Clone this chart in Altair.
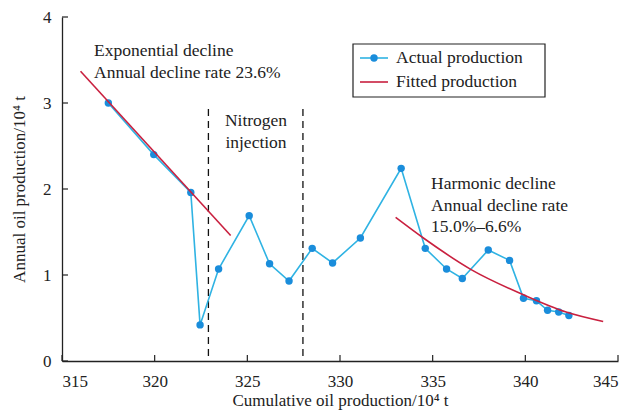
import altair as alt
import pandas as pd

# Actual production (cumulative 10^4 t, annual 10^4 t)
actual_x = [317.5, 319.95, 321.95, 322.45, 323.45, 325.1, 326.2, 327.25, 328.5, 329.6, 331.1,
            333.3, 334.6, 335.75, 336.6, 338.0, 339.15, 339.9, 340.6, 341.2, 341.8, 342.35]
actual_y = [3.0, 2.40, 1.96, 0.42, 1.07, 1.69, 1.13, 0.93, 1.31, 1.14, 1.43,
            2.24, 1.31, 1.07, 0.96, 1.29, 1.17, 0.73, 0.70, 0.59, 0.57, 0.53]

# Fitted exponential decline segment
fit1_x = [316.0, 324.1]
fit1_y = [3.37, 1.46]

# Fitted harmonic decline segment
fit2_x = [333.0, 334.5, 337.1, 339.9, 342.2, 344.2]
fit2_y = [1.67, 1.43, 1.06, 0.77, 0.57, 0.46]

# Nitrogen injection boundaries
dash_x = [322.9, 328.0]
dash_top = 2.93

x_ticks = [315, 320, 325, 330, 335, 340, 345]
y_ticks = [0, 1, 2, 3, 4]

FONT = "Liberation Serif"
BLUE_LINE = "#2fb3e3"
BLUE_PT = "#1a8ddb"
RED = "#c9203f"
W, H = 556, 344

xs = alt.Scale(domain=[315, 345], nice=False, zero=False)
ys = alt.Scale(domain=[0, 4], nice=False)

df_act = pd.DataFrame({"x": actual_x, "y": actual_y})
df_f1 = pd.DataFrame({"x": fit1_x, "y": fit1_y})
df_f2 = pd.DataFrame({"x": fit2_x, "y": fit2_y})
df_dash = pd.DataFrame({"x": dash_x, "y": [dash_top] * len(dash_x), "y0": [0] * len(dash_x)})
df_xt = pd.DataFrame({"x": x_ticks})
df_yt = pd.DataFrame({"y": y_ticks})

base_axes = alt.Chart(df_act).mark_point(opacity=0).encode(
    x=alt.X("x:Q", scale=xs, axis=alt.Axis(values=x_ticks, title="Cumulative oil production/10⁴ t",
                                           tickSize=0, labelPadding=12, titlePadding=3, format="d")),
    y=alt.Y("y:Q", scale=ys, axis=alt.Axis(values=y_ticks, title="Annual oil production/10⁴ t",
                                           tickSize=0, labelPadding=11, titlePadding=14, format="d")),
)

xtick = alt.Chart(df_xt).mark_rule(color="#222", strokeWidth=1.2).encode(
    x=alt.X("x:Q", scale=xs), y=alt.value(H), y2=alt.value(H - 6))
ytick = alt.Chart(df_yt).mark_rule(color="#222", strokeWidth=1.2).encode(
    y=alt.Y("y:Q", scale=ys), x=alt.value(0), x2=alt.value(6))

dash = alt.Chart(df_dash).mark_rule(color="#111", strokeDash=[7, 5], strokeWidth=1.3).encode(
    x=alt.X("x:Q", scale=xs), y=alt.Y("y:Q", scale=ys), y2="y0:Q")

act_line = alt.Chart(df_act).mark_line(color=BLUE_LINE, strokeWidth=1.6).encode(
    x=alt.X("x:Q", scale=xs), y=alt.Y("y:Q", scale=ys))
act_pts = alt.Chart(df_act).mark_circle(color=BLUE_PT, size=55, opacity=1).encode(
    x=alt.X("x:Q", scale=xs), y=alt.Y("y:Q", scale=ys))

f1 = alt.Chart(df_f1).mark_line(color=RED, strokeWidth=1.6).encode(
    x=alt.X("x:Q", scale=xs), y=alt.Y("y:Q", scale=ys))
f2 = alt.Chart(df_f2).mark_line(color=RED, strokeWidth=1.6, interpolate="monotone").encode(
    x=alt.X("x:Q", scale=xs), y=alt.Y("y:Q", scale=ys))

# Annotations (pixel-positioned text)
ann = pd.DataFrame({
    "t": ["Exponential decline", "Annual decline rate 23.6%", "Nitrogen", "injection",
          "Harmonic decline", "Annual decline rate", "15.0%–6.6%"],
    "px": [32, 32, 194, 194, 369, 369, 369],
    "py": [34, 56, 104, 126, 167, 189, 210],
    "al": ["left", "left", "center", "center", "left", "left", "left"],
})
ann_left = alt.Chart(ann[ann.al == "left"]).mark_text(
    font=FONT, fontSize=17.5, color="#222", align="left", baseline="middle").encode(
    x=alt.X("px:Q", scale=None), y=alt.Y("py:Q", scale=None), text="t:N")
ann_center = alt.Chart(ann[ann.al == "center"]).mark_text(
    font=FONT, fontSize=17.5, color="#222", align="center", baseline="middle").encode(
    x=alt.X("px:Q", scale=None), y=alt.Y("py:Q", scale=None), text="t:N")

# Legend (manual)
lx0, ly0, lx1, ly1 = 291, 27, 483, 80
leg_box = alt.Chart(pd.DataFrame({"a": [0]})).mark_rect(
    fill="white", stroke="#222", strokeWidth=1.2).encode(
    x=alt.value(lx0), x2=alt.value(lx1), y=alt.value(ly0), y2=alt.value(ly1))
leg_l1 = alt.Chart(pd.DataFrame({"a": [0]})).mark_rule(color=BLUE_LINE, strokeWidth=1.6).encode(
    x=alt.value(298), x2=alt.value(326), y=alt.value(41))
leg_p1 = alt.Chart(pd.DataFrame({"a": [0]})).mark_circle(color=BLUE_PT, size=55, opacity=1).encode(
    x=alt.value(312), y=alt.value(41))
leg_l2 = alt.Chart(pd.DataFrame({"a": [0]})).mark_rule(color=RED, strokeWidth=1.6).encode(
    x=alt.value(298), x2=alt.value(326), y=alt.value(65))
leg_txt = alt.Chart(pd.DataFrame({"t": ["Actual production", "Fitted production"],
                                  "py": [41, 65]})).mark_text(
    font=FONT, fontSize=17.5, color="#222", align="left", baseline="middle").encode(
    x=alt.value(334), y=alt.Y("py:Q", scale=None), text="t:N")

chart = alt.layer(
    base_axes, dash, act_line, act_pts, f1, f2, xtick, ytick,
    ann_left, ann_center, leg_box, leg_l1, leg_p1, leg_l2, leg_txt
).properties(
    width=W, height=H,
    autosize=alt.AutoSizeParams(type="none"),
    padding={"left": 54, "top": 9, "right": 12, "bottom": 50},
    background="white",
).configure_view(stroke=None).configure_axis(
    labelFont=FONT, titleFont=FONT, labelFontSize=17, titleFontSize=17,
    labelColor="#222", titleColor="#222", titleFontWeight="normal",
    domainColor="#222", domainWidth=1.3, grid=False,
)

chart.save("out.html", embed_options={"renderer": "svg", "actions": False})
